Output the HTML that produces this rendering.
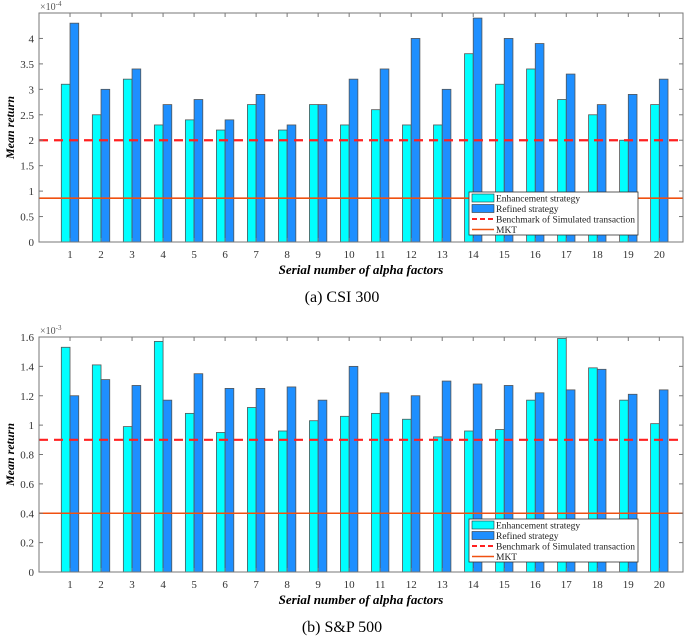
<!DOCTYPE html>
<html><head><meta charset="utf-8"><style>
body{margin:0;background:#fff;width:685px;height:636px;overflow:hidden}
svg{display:block;font-family:"Liberation Serif",serif}
</style></head><body>
<svg id="c" width="685" height="636"></svg>
<script>
const categories=[1,2,3,4,5,6,7,8,9,10,11,12,13,14,15,16,17,18,19,20];
const csiEnh=[3.1,2.5,3.2,2.3,2.4,2.2,2.7,2.2,2.7,2.3,2.6,2.3,2.3,3.7,3.1,3.4,2.8,2.5,2.0,2.7];
const csiRef=[4.3,3.0,3.4,2.7,2.8,2.4,2.9,2.3,2.7,3.2,3.4,4.0,3.0,4.4,4.0,3.9,3.3,2.7,2.9,3.2];
const csiBench=2.0, csiMkt=0.86;
const csiTicks=[0,0.5,1,1.5,2,2.5,3,3.5,4];
const spEnh=[1.53,1.41,0.99,1.57,1.08,0.95,1.12,0.96,1.03,1.06,1.08,1.04,0.92,0.96,0.97,1.17,1.59,1.39,1.17,1.01];
const spRef=[1.20,1.31,1.27,1.17,1.35,1.25,1.25,1.26,1.17,1.40,1.22,1.20,1.30,1.28,1.27,1.22,1.24,1.38,1.21,1.24];
const spBench=0.9, spMkt=0.4;
const spTicks=[0,0.2,0.4,0.6,0.8,1,1.2,1.4,1.6];

const NS="http://www.w3.org/2000/svg";
const svg=document.getElementById('c');
function mk(tag,attrs,parent,text){const e=document.createElementNS(NS,tag);for(const k in attrs)e.setAttribute(k,attrs[k]);if(text!==undefined)e.textContent=text;(parent||svg).appendChild(e);return e;}

function chart(o){
  const g=mk('g',{});
  
  
  const L=39,R=683,T=o.top,B=o.bottom;
  const xs=v=>L+(v-0)*(659.3-70)/19;
  const ys=v=>B-(v/o.ymax)*(B-T);
  const bw=8.7;
  // bars
  categories.forEach((c,i)=>{
    const r1=mk('rect',{x:xs(c)-bw,y:ys(o.enh[i]),width:bw,height:B-ys(o.enh[i]),fill:'#00ffff',stroke:'#555','stroke-width':0.8},g);
    
    
    const r2=mk('rect',{x:xs(c),y:ys(o.ref[i]),width:bw,height:B-ys(o.ref[i]),fill:'#1e8fff',stroke:'#555','stroke-width':0.8},g);
    
    
  });
  const bl=mk('line',{x1:L,x2:R,y1:ys(o.bench),y2:ys(o.bench),stroke:'#ff2020','stroke-width':2.2,'stroke-dasharray':'9,6'},g);
  
  
  const ml=mk('line',{x1:L,x2:R,y1:ys(o.mkt),y2:ys(o.mkt),stroke:'#f05010','stroke-width':1.6},g);
  
  
  // axes box
  const ax=mk('rect',{x:L,y:T,width:R-L,height:B-T,fill:'none',stroke:'#777','stroke-width':1},g);
  
  
  o.ticks.forEach(t=>{
    mk('line',{x1:L,x2:L+4,y1:ys(t),y2:ys(t),stroke:'#777'},g);
    mk('line',{x1:R,x2:R-4,y1:ys(t),y2:ys(t),stroke:'#777'},g);
    const tl=mk('text',{x:L-5,y:ys(t)+4,'text-anchor':'end','font-size':11,fill:'#333'},g,String(t));
    
    
  });
  categories.forEach(c=>{
    mk('line',{x1:xs(c),x2:xs(c),y1:B,y2:B-4,stroke:'#777'},g);
    mk('line',{x1:xs(c),x2:xs(c),y1:T,y2:T+4,stroke:'#777'},g);
    const tl=mk('text',{x:xs(c),y:B+16,'text-anchor':'middle','font-size':11,fill:'#333'},g,String(c));
    
    
  });
  const ex=mk('text',{x:40,y:T-3,'font-size':10,fill:'#555'},g);
  
  
  ex.innerHTML='×10<tspan dy="-4" font-size="7">'+o.exp+'</tspan>';
  const yl=mk('text',{transform:`translate(14,${(T+B)/2}) rotate(-90)`,'text-anchor':'middle','font-size':12,'font-weight':'bold','font-style':'italic'},g,'Mean return');
  
  
  const xl=mk('text',{x:361,y:B+32,'text-anchor':'middle','font-size':13,'font-weight':'bold','font-style':'italic'},g,'Serial number of alpha factors');
  
  
  const cap=mk('text',{x:342,y:B+60,'text-anchor':'middle','font-size':16},g,o.caption);
  
  
  // legend
  const lg=mk('g',{},g);
  
  
  const lx=469,ly=o.legY;
  mk('rect',{x:lx,y:ly,width:169,height:43,fill:'#fff',stroke:'#333','stroke-width':0.8},lg);
  const labels=['Enhancement strategy','Refined strategy','Benchmark of Simulated transaction','MKT'];
  labels.forEach((t,i)=>{
    const yy=ly+6+i*10.5;
    if(i==0)mk('rect',{x:lx+3,y:yy-4,width:22,height:8,fill:'#00ffff',stroke:'#333','stroke-width':0.6},lg);
    if(i==1)mk('rect',{x:lx+3,y:yy-4,width:22,height:8,fill:'#1e8fff',stroke:'#333','stroke-width':0.6},lg);
    if(i==2)mk('line',{x1:lx+3,x2:lx+25,y1:yy,y2:yy,stroke:'#ff2020','stroke-width':2,'stroke-dasharray':'5,3'},lg);
    if(i==3)mk('line',{x1:lx+3,x2:lx+25,y1:yy,y2:yy,stroke:'#f05010','stroke-width':1.5},lg);
    const le=mk('text',{x:lx+27,y:yy+3.5,'font-size':9.5,fill:'#222'},lg,t);
    
    
  });
}
chart({name:'csi300-chart',top:13,bottom:242,ymax:4.5,enh:csiEnh,ref:csiRef,bench:csiBench,mkt:csiMkt,ticks:csiTicks,exp:'-4',caption:'(a) CSI 300',legY:192});
chart({name:'sp500-chart',top:337,bottom:572,ymax:1.6,enh:spEnh,ref:spRef,bench:spBench,mkt:spMkt,ticks:spTicks,exp:'-3',caption:'(b) S&P 500',legY:519});
</script>
</body></html>
